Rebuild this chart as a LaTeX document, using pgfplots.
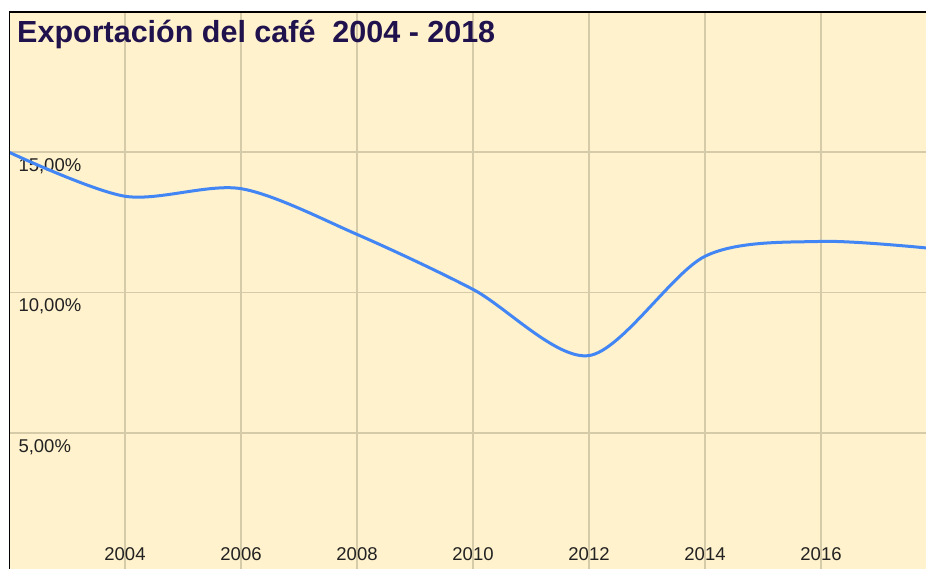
\documentclass[border=0pt]{standalone}
\usepackage{pgfplots}
\pgfplotsset{compat=1.18}
\usepackage{fontspec}
\setmainfont{Liberation Sans}
\definecolor{cream}{HTML}{FFF2CC}
\definecolor{gridc}{HTML}{D5CBA8}
\definecolor{linec}{HTML}{4285F4}
\definecolor{titlec}{HTML}{20124D}
\definecolor{tickc}{HTML}{222222}
\begin{document}
\begin{tikzpicture}[x=1pt,y=1pt]
\fill[white] (0,0) rectangle (926,569);
\begin{axis}[
  at={(9pt,0pt)}, anchor=south west,
  scale only axis,
  width=917pt, height=557pt,
  xmin=2002, xmax=2017.81,
  ymin=0.14, ymax=20,
  axis background/.style={fill=cream},
  axis line style={draw=none},
  xtick={2004,2006,2008,2010,2012,2014,2016},
  xticklabels={2004,2006,2008,2010,2012,2014,2016},
  ytick={5,10,15},
  yticklabels={{5,00\%},{10,00\%},{15,00\%}},
  extra y ticks={20}, extra y tick labels={},
  major tick length=0pt,
  grid=major,
  major grid style={gridc, line width=1.8pt},
  extra y tick style={grid=major},
  tick label style={font=\fontsize{18.5}{18.5}\selectfont, text=tickc},
  xticklabel style={anchor=base, yshift=8pt},
  yticklabel style={anchor=north west, xshift=6pt, yshift=-3pt},
  clip=true,
]
\addplot[linec, line width=3pt, smooth, tension=0.5] coordinates {
  (2002,15.0) (2004,13.43) (2006,13.70) (2008,12.07) (2010,10.11)
  (2012,7.75) (2014,11.29) (2016,11.82) (2018,11.55)
};
\draw[black, line width=2pt] (rel axis cs:0,0) -- (rel axis cs:0,1) -- (rel axis cs:1,1);
\end{axis}
\node[anchor=base west, inner sep=0pt, text=titlec, font=\fontsize{30.5}{30.5}\selectfont\bfseries] at (17,526) {Exportación del café\ \ 2004 - 2018};
\pgfresetboundingbox
\useasboundingbox (0,0) rectangle (926,569);
\end{tikzpicture}
\end{document}
